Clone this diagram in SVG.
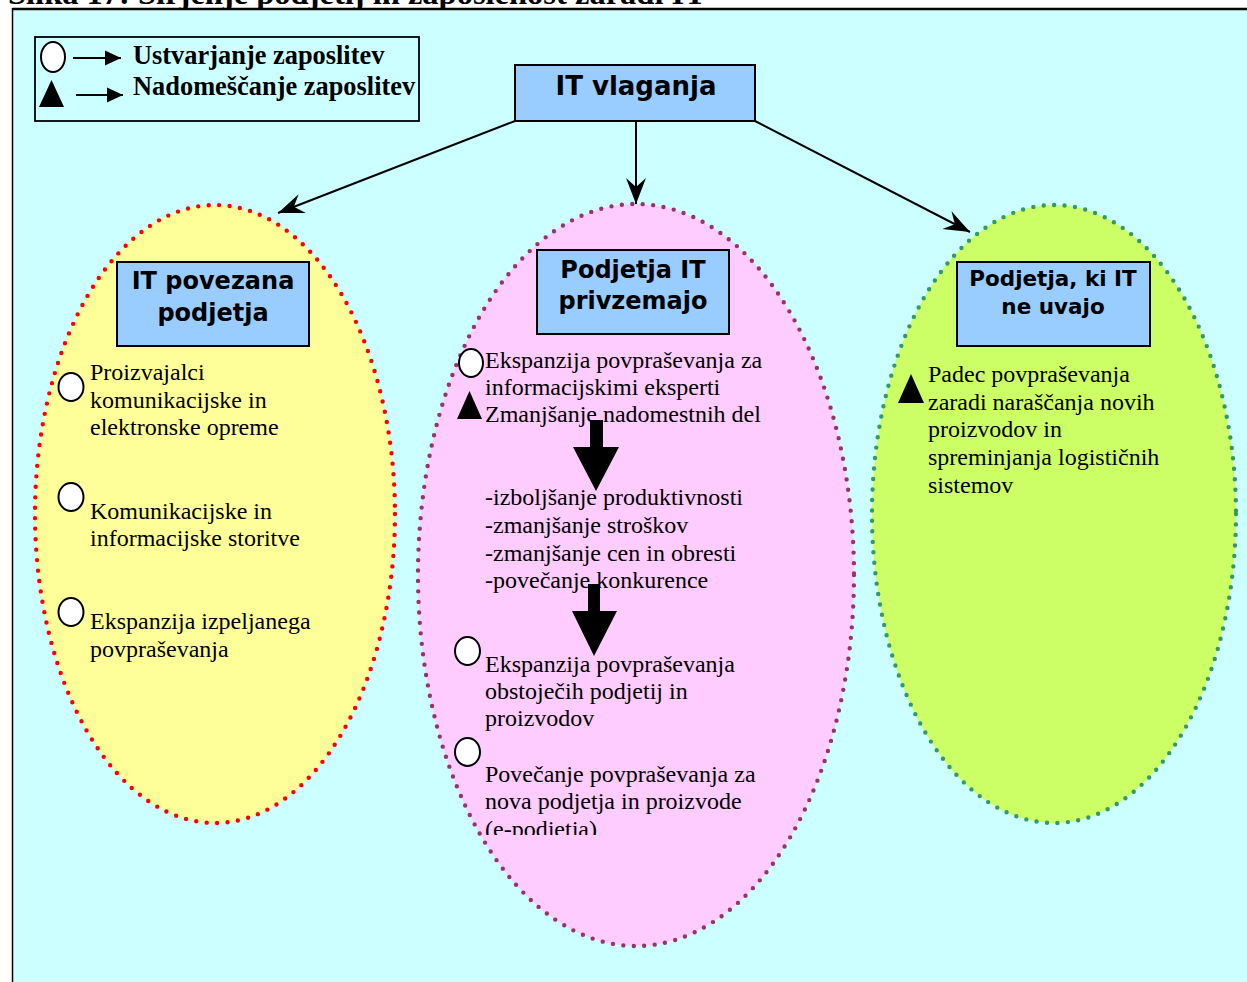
<svg xmlns="http://www.w3.org/2000/svg" width="1247" height="982" viewBox="0 0 1247 982">
  <defs>
    <style>
      .serif { font-family: "Liberation Serif", "Times New Roman", serif; font-size: 24px; fill: #000; }
      .legend { font-family: "Liberation Serif", "Times New Roman", serif; font-size: 26.4px; font-weight: bold; fill: #000; }
      .head { font-family: "DejaVu Sans", Verdana, sans-serif; font-weight: bold; fill: #000; text-anchor: middle; }
      .box { fill: #99CCFF; stroke: #000; stroke-width: 2; }
      .bullet { fill: #FFFFFF; stroke: #000; stroke-width: 2; }
      .tri { fill: #000; }
      .dots { stroke-width: 4.4; stroke-linecap: round; stroke-dasharray: 0 10.5; }
      .link { fill: none; stroke: #000; stroke-width: 2; marker-end: url(#stealth); }
    </style>
    <marker id="stealth" markerUnits="userSpaceOnUse" markerWidth="30" markerHeight="24" viewBox="-26 -12 30 24" refX="0" refY="0" orient="auto">
      <path d="M0,0 L-26,-10 L-17,0 L-26,10 Z" fill="#000"/>
    </marker>
    <marker id="tip" markerUnits="userSpaceOnUse" markerWidth="18" markerHeight="16" viewBox="-16 -8 18 16" refX="0" refY="0" orient="auto">
      <path d="M0,0 L-16,-7.5 L-16,7.5 Z" fill="#000"/>
    </marker>
    <clipPath id="clip-mid">
      <rect x="470" y="600" width="320" height="235"/>
    </clipPath>
  </defs>

  <!-- page and caption -->
  <rect x="0" y="0" width="1247" height="982" fill="#FFFFFF"/>
  <text x="8" y="4" font-family="Liberation Serif, Times New Roman, serif" font-size="32.5" font-weight="bold">Slika 17: Širjenje podjetij in zaposlenost zaradi IT</text>
  <rect x="12.5" y="9" width="1240" height="980" fill="#CCFFFF"/>
  <line x1="12.5" y1="9" x2="1247" y2="9" stroke="#000" stroke-width="2.5"/>
  <line x1="12.5" y1="8" x2="12.5" y2="982" stroke="#000" stroke-width="1.5"/>

  <!-- legend -->
  <g id="legend">
    <rect x="35" y="37" width="384" height="84" fill="none" stroke="#000" stroke-width="1.8"/>
    <ellipse cx="53" cy="57" rx="12" ry="15" class="bullet"/>
    <line x1="73" y1="58" x2="121" y2="58" stroke="#000" stroke-width="2" marker-end="url(#tip)"/>
    <polygon points="39,107 51.5,80 64,107" class="tri"/>
    <line x1="76" y1="95" x2="123" y2="95" stroke="#000" stroke-width="2" marker-end="url(#tip)"/>
    <text x="133" y="64" class="legend">Ustvarjanje zaposlitev</text>
    <text x="133" y="95" class="legend">Nadomeščanje zaposlitev</text>
  </g>

  <!-- root node -->
  <g id="it-vlaganja">
    <rect x="515" y="65" width="240" height="56" class="box"/>
    <text x="636" y="95" class="head" font-size="26">IT vlaganja</text>
  </g>

  <!-- connectors -->
  <g id="connectors">
    <line x1="515" y1="121" x2="278" y2="213" class="link"/>
    <line x1="636" y1="121" x2="636" y2="204" class="link"/>
    <line x1="755" y1="121" x2="970" y2="232" class="link"/>
  </g>

  <!-- IT related companies -->
  <g id="it-povezana">
    <ellipse cx="215" cy="514" rx="180" ry="309" fill="#FFFF99" stroke="#FF0000" class="dots"/>
    <rect x="117" y="262" width="192" height="84" class="box"/>
    <text x="213" y="289" class="head" font-size="24">IT povezana</text>
    <text x="213" y="321" class="head" font-size="24">podjetja</text>
    <ellipse cx="71" cy="387" rx="12.5" ry="14" class="bullet"/>
    <text class="serif">
      <tspan x="90" y="380">Proizvajalci</tspan>
      <tspan x="90" y="408">komunikacijske in</tspan>
      <tspan x="90" y="435">elektronske opreme</tspan>
    </text>
    <ellipse cx="71" cy="497" rx="12.5" ry="14" class="bullet"/>
    <text class="serif">
      <tspan x="90" y="519">Komunikacijske in</tspan>
      <tspan x="90" y="546">informacijske storitve</tspan>
    </text>
    <ellipse cx="71" cy="612" rx="12.5" ry="14" class="bullet"/>
    <text class="serif">
      <tspan x="90" y="629">Ekspanzija izpeljanega</tspan>
      <tspan x="90" y="657">povpraševanja</tspan>
    </text>
  </g>

  <!-- companies adopting IT -->
  <g id="it-privzemajo">
    <ellipse cx="636" cy="575" rx="218" ry="371" fill="#FFCCFF" stroke="#993366" class="dots"/>
    <rect x="537" y="250" width="192" height="84" class="box"/>
    <text x="633" y="278" class="head" font-size="24">Podjetja IT</text>
    <text x="633" y="309" class="head" font-size="24">privzemajo</text>
    <ellipse cx="471" cy="363" rx="12" ry="14" class="bullet"/>
    <polygon points="457,419 469.5,391 482,419" class="tri"/>
    <text class="serif">
      <tspan x="485" y="368">Ekspanzija povpraševanja za</tspan>
      <tspan x="485" y="395">informacijskimi eksperti</tspan>
      <tspan x="485" y="422">Zmanjšanje nadomestnih del</tspan>
    </text>
    <text class="serif">
      <tspan x="485" y="505">-izboljšanje produktivnosti</tspan>
      <tspan x="485" y="533">-zmanjšanje stroškov</tspan>
      <tspan x="485" y="561">-zmanjšanje cen in obresti</tspan>
      <tspan x="485" y="588">-povečanje konkurence</tspan>
    </text>
    <ellipse cx="467.5" cy="651" rx="12.5" ry="14" class="bullet"/>
    <text class="serif">
      <tspan x="485" y="672">Ekspanzija povpraševanja</tspan>
      <tspan x="485" y="699">obstoječih podjetij in</tspan>
      <tspan x="485" y="726">proizvodov</tspan>
    </text>
    <ellipse cx="467.5" cy="752" rx="12.5" ry="14" class="bullet"/>
    <text class="serif" clip-path="url(#clip-mid)">
      <tspan x="485" y="782">Povečanje povpraševanja za</tspan>
      <tspan x="485" y="809">nova podjetja in proizvode</tspan>
      <tspan x="485" y="837">(e-podjetja)</tspan>
    </text>
    <!-- block arrows between the steps -->
    <polygon points="590,420 603,420 603,447 619,447 596,491 573,447 590,447" fill="#000"/>
    <polygon points="588,584 600,584 600,611 617,611 594,656 572,611 588,611" fill="#000"/>
  </g>

  <!-- companies not adopting IT -->
  <g id="ne-uvajo">
    <ellipse cx="1054" cy="514" rx="182" ry="309" fill="#CCFF66" stroke="#339966" class="dots"/>
    <rect x="957" y="262" width="193" height="84" class="box"/>
    <text x="1053" y="286" class="head" font-size="21.5">Podjetja, ki IT</text>
    <text x="1053" y="314" class="head" font-size="21.5">ne uvajo</text>
    <polygon points="898,403 911,374 924,403" class="tri"/>
    <text class="serif">
      <tspan x="928" y="382">Padec povpraševanja</tspan>
      <tspan x="928" y="410">zaradi naraščanja novih</tspan>
      <tspan x="928" y="437">proizvodov in</tspan>
      <tspan x="928" y="465">spreminjanja logističnih</tspan>
      <tspan x="928" y="493">sistemov</tspan>
    </text>
  </g>
</svg>
